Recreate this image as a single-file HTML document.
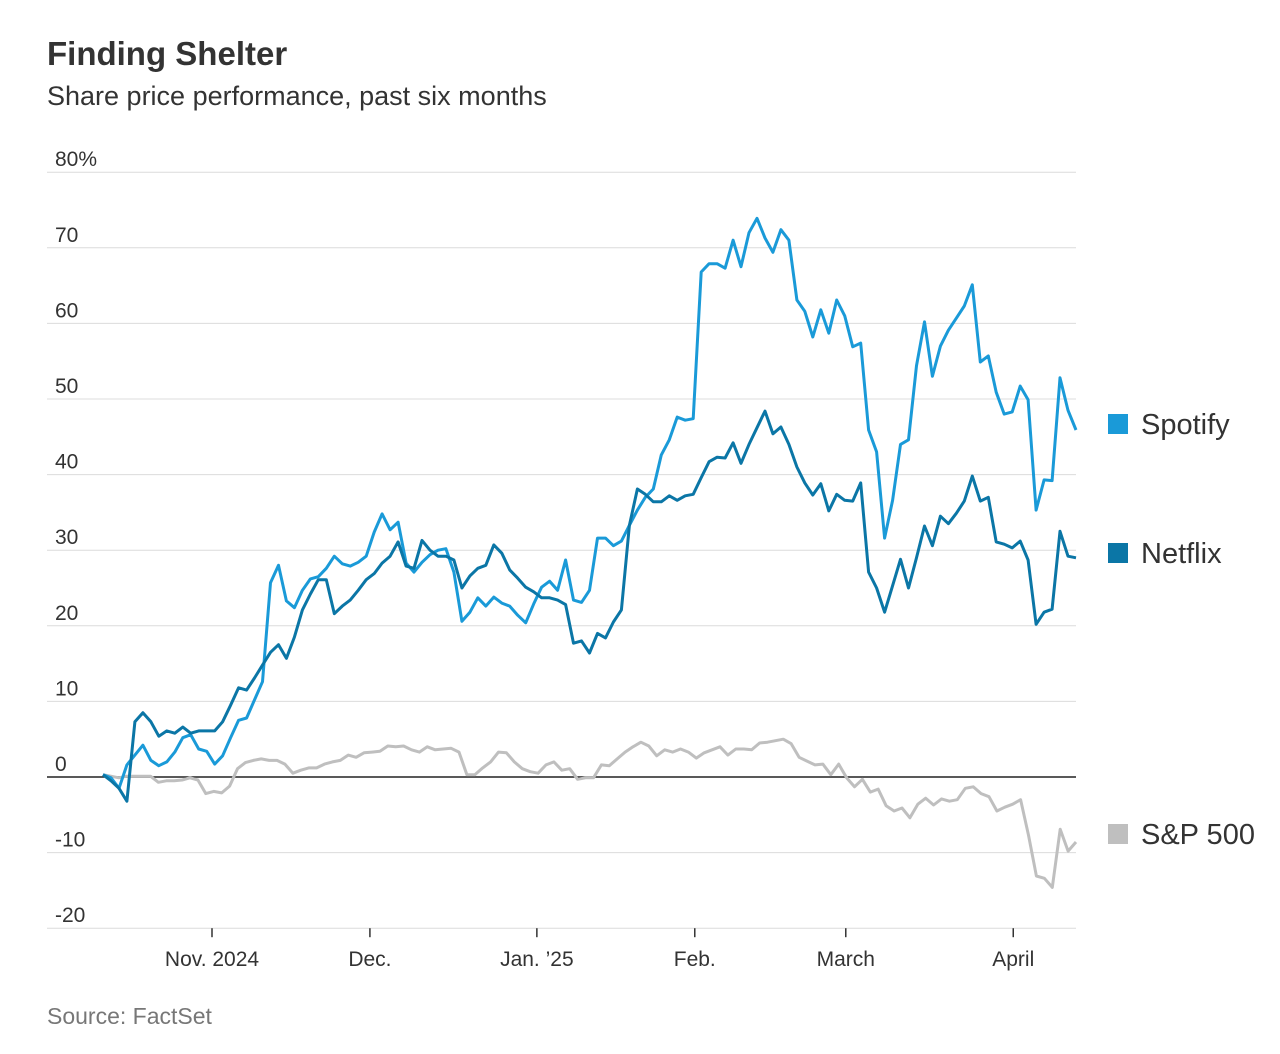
<!DOCTYPE html>
<html><head><meta charset="utf-8"><style>
body{margin:0;background:#fff;font-family:"Liberation Sans",sans-serif;}
svg{display:block}
</style></head><body>
<svg id="chart" width="1280" height="1054">
<text x="47" y="65" font-size="33" font-weight="bold" fill="#333">Finding Shelter</text>
<text x="47" y="105" font-size="27" fill="#333">Share price performance, past six months</text>
<text x="47" y="1024" font-size="23" fill="#777">Source: FactSet</text>
<g id="grid"></g><g id="lines"></g><g id="legend"></g>
</svg>
<script>
const yTicks=[80,70,60,50,40,30,20,10,0,-10,-20];
const monthLabels=["Nov. 2024","Dec.","Jan. ’25","Feb.","March","April"];
const monthDays=[20.5,50.2,81.6,111.3,139.7,171.2];
const totalDays=183;
const spotify=[0.3,-0.1,-1.5,1.6,2.9,4.2,2.2,1.5,2,3.3,5.2,5.6,3.7,3.4,1.7,2.8,5.2,7.5,7.8,10.2,12.6,25.7,28,23.3,22.4,24.7,26.2,26.5,27.6,29.2,28.2,27.9,28.4,29.2,32.4,34.8,32.7,33.7,28.3,27.1,28.4,29.4,30,30.2,27.1,20.6,21.8,23.7,22.6,23.8,23,22.6,21.4,20.4,22.9,25.1,25.9,24.7,28.7,23.4,23.1,24.7,31.6,31.6,30.6,31.2,33.3,35.3,37,38.1,42.6,44.6,47.6,47.2,47.4,66.8,67.9,67.9,67.3,71,67.5,72,73.9,71.3,69.4,72.4,71,63.1,61.6,58.2,61.8,58.7,63.1,61,56.9,57.4,45.9,43,31.6,36.6,44,44.6,54.4,60.2,53,57,59.1,60.7,62.3,65.1,54.9,55.7,50.9,48,48.3,51.7,49.9,35.3,39.3,39.2,52.8,48.5,45.9];
const netflix=[0.3,-0.5,-1.5,-3.2,7.3,8.5,7.3,5.4,6.1,5.8,6.6,5.8,6.1,6.1,6.1,7.3,9.5,11.8,11.5,13.1,14.8,16.5,17.5,15.7,18.5,22.1,24.2,26.1,26.1,21.6,22.6,23.4,24.7,26.1,26.9,28.3,29.2,31.1,27.9,27.6,31.3,30,29.2,29.2,28.7,25,26.6,27.6,28,30.7,29.6,27.4,26.3,25.1,24.5,23.7,23.7,23.4,22.8,17.7,18,16.4,19,18.4,20.5,22.1,33.3,38.1,37.4,36.4,36.4,37.2,36.6,37.2,37.4,39.6,41.7,42.3,42.2,44.2,41.5,44,46.2,48.4,45.4,46.3,44,41,38.9,37.3,38.8,35.2,37.4,36.6,36.5,38.9,27.1,25,21.8,25.3,28.8,25,29,33.2,30.6,34.5,33.5,34.9,36.5,39.8,36.5,37,31.1,30.8,30.3,31.2,28.7,20.2,21.8,22.2,32.5,29.2,29];
const sp500=[0.3,0.1,-0.1,0.1,0.1,0.1,0.1,-0.7,-0.5,-0.5,-0.4,-0.1,-0.4,-2.2,-1.9,-2.1,-1.2,1.1,1.9,2.2,2.4,2.2,2.2,1.7,0.5,0.9,1.2,1.2,1.7,2,2.2,2.9,2.6,3.2,3.3,3.4,4.1,4,4.1,3.6,3.3,4,3.6,3.7,3.8,3.3,0.3,0.3,1.2,2,3.3,3.2,2,1.1,0.7,0.5,1.6,2,0.9,1.1,-0.3,-0.1,-0.1,1.6,1.5,2.4,3.3,4,4.6,4.1,2.8,3.6,3.3,3.7,3.3,2.5,3.2,3.6,4,2.9,3.7,3.7,3.6,4.5,4.6,4.8,5,4.4,2.6,2.1,1.6,1.7,0.3,1.7,-0.1,-1.3,-0.3,-2,-1.6,-3.8,-4.5,-4.1,-5.4,-3.6,-2.8,-3.7,-2.9,-3.2,-3,-1.5,-1.3,-2.2,-2.6,-4.5,-4,-3.6,-3,-7.7,-13.1,-13.4,-14.6,-6.9,-9.8,-8.6];
const seriesNames=["Spotify","Netflix","S&P 500"];
const NS="http://www.w3.org/2000/svg";
const X0=47,X1=1076,XS=103,XE=1076;
function yScale(v){return 777-v*7.56;}
function dayX(d){return XS+(XE-XS)*d/totalDays;}
function idxX(i,n){return XS+(XE-XS)*i/(n-1);}
function mk(tag,attrs,parent){const e=document.createElementNS(NS,tag);for(const k in attrs)e.setAttribute(k,attrs[k]);parent.appendChild(e);return e;}
const grid=document.getElementById('grid');
yTicks.forEach(t=>{
  const y=yScale(t);
  const l=mk('line',{x1:X0,x2:X1,y1:y,y2:y,stroke:t===0?'#222':'#dcdcdc','stroke-width':t===0?1.5:1},grid);
  
  
  const tx=mk('text',{x:55,y:y-6,'font-size':21,fill:'#333'},grid);
  tx.textContent=t===80?'80%':String(t);
  
  
});
monthLabels.forEach((m,i)=>{
  const x=dayX(monthDays[i]);
  const tk=mk('line',{x1:x,x2:x,y1:yScale(-20),y2:yScale(-20)+9,stroke:'#333','stroke-width':1.5},grid);
  
  
  const tx=mk('text',{x:x,y:966,'font-size':21,fill:'#333','text-anchor':'middle'},grid);
  tx.textContent=m;
  
  
});
const lines=document.getElementById('lines');
const colors=['#1a9ad8','#0b76a6','#bfbfbf'];
const data=[spotify,netflix,sp500];
[2,0,1].forEach(k=>{
  const s=data[k];
  const d=s.map((v,i)=>(i?'L':'M')+idxX(i,s.length).toFixed(1)+','+yScale(v).toFixed(1)).join('');
  const p=mk('path',{d:d,fill:'none',stroke:colors[k],'stroke-width':3,'stroke-linejoin':'round'},lines);
  
  
});
const legend=document.getElementById('legend');
const legY=[424,553,834];
seriesNames.forEach((n,i)=>{
  const r=mk('rect',{x:1108,y:legY[i]-10,width:20,height:20,fill:colors[i]},legend);
  
  
  const t=mk('text',{x:1141,y:legY[i]+10,'font-size':29,fill:'#333'},legend);
  t.textContent=n;
  
  
});
</script>
</body></html>
